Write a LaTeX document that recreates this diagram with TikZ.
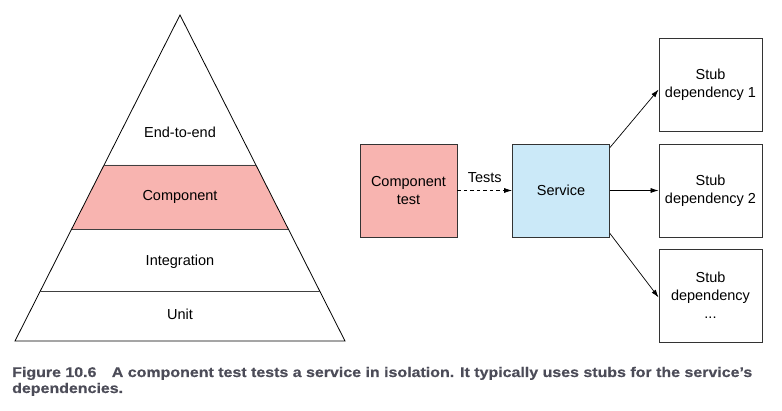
\documentclass[tikz,border=0pt]{standalone}
\usepackage{fontspec}
\setmainfont{Liberation Sans}
\newfontfamily\capfont[FakeStretch=1.14,FakeBold=0.5]{Liberation Sans}
\usetikzlibrary{arrows.meta,calc}
\definecolor{pinkfill}{HTML}{F8B4B0}
\definecolor{bluefill}{HTML}{CBE9F8}
\definecolor{capgray}{HTML}{4C4C58}
\tikzset{
  box/.style={draw=black!80, line width=0.8pt, minimum width=97pt, minimum height=93pt, align=center, font=\fontsize{14.5}{18}\selectfont, inner sep=0pt},
  stubbox/.style={box, minimum width=103pt},
  arr/.style={line width=0.7pt, -{Latex[length=8pt,width=5pt]}},
  lbl/.style={font=\fontsize{14.5}{18}\selectfont, inner sep=0pt},
}
\begin{document}
\begin{tikzpicture}[x=1pt,y=-1pt]
\useasboundingbox (0,0) rectangle (782,411);
% pyramid
\fill[pinkfill] (104.1,165) -- (255.9,165) -- (288.3,229) -- (71.7,229) -- cycle;
\draw[line width=0.8pt] (180,15) -- (15,341) -- (345,341) -- cycle;
\draw[line width=0.8pt, black!75] (104.1,165) -- (255.9,165);
\draw[line width=0.8pt, black!75] (71.7,229) -- (288.3,229);
\draw[line width=0.8pt, black!75] (40.3,291) -- (319.7,291);
\node[lbl] (e2e) at (180,132) {End-to-end};
\node[lbl] (comp) at (180,197) {Component};
\node[lbl] (integ) at (180,262) {Integration};
\node[lbl] (unit) at (180,314) {Unit};
% right diagram
\node[box, fill=pinkfill] (ct) at (408.5,190.5) {Component\\test};
\node[box, fill=bluefill] (svc) at (561,190.5) {Service};
\node[stubbox] (s1) at (710.5,84.5) {Stub\\dependency 1};
\node[stubbox] (s2) at (710.5,190.5) {Stub\\dependency 2};
\node[stubbox] (s3) at (710.5,295.5) {Stub\\dependency\\...};
\draw[arr, dash pattern=on 3.5pt off 3pt] (ct.east) -- node[lbl, above=8pt] {Tests} (svc.west);
\draw[arr] ($(svc.north east)+(0,4)$) -- ($(s1.west)+(0,5)$);
\draw[arr] (svc.east) -- (s2.west);
\draw[arr] ($(svc.south east)+(0,-4)$) -- ($(s3.west)+(0,2)$);
% caption
\node[anchor=base west, inner sep=0pt, align=left, text=capgray, font=\capfont\bfseries\fontsize{14}{16}\selectfont] (cap) at (12,393) {Figure 10.6\hspace{1.1em}A component test tests a service in isolation. It typically uses stubs for the service’s\\dependencies.};
\end{tikzpicture}
\end{document}
